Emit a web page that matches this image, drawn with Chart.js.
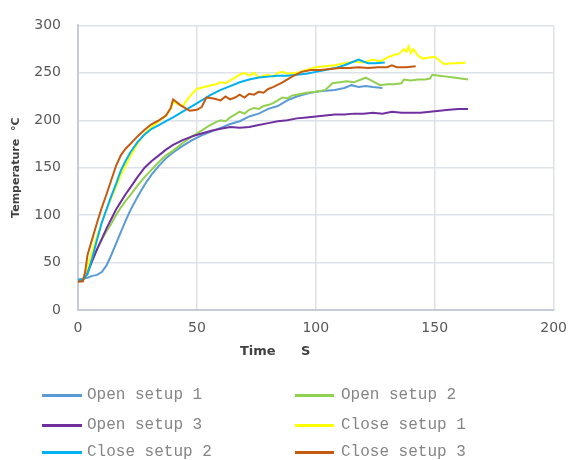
<!DOCTYPE html>
<html>
<head>
<meta charset="utf-8">
<script src="https://cdn.jsdelivr.net/npm/chart.js@4/dist/chart.umd.min.js"></script>
<style>
  html, body { margin: 0; padding: 0; background: #fff; }
  #wrap { position: relative; width: 577px; height: 460px; overflow: hidden; }
  canvas { position: absolute; left: 0; top: 0; }
  .lg { position: absolute; font-family: "Liberation Mono", "DejaVu Sans Mono", monospace; font-size: 16px; color: #858585; line-height: 20px; white-space: pre; }
  .sw { position: absolute; height: 3px; }
</style>
</head>
<body>
<div id="wrap">
  <canvas id="c" width="577" height="460"></canvas>
  <div id="legend"></div>
</div>
<script>
// ---- data ----
const seriesNames = ["Open setup 1", "Open setup 2", "Open setup 3", "Close setup 1", "Close setup 2", "Close setup 3"];
const seriesColors = ["#5b9bd5", "#92d050", "#7030a0", "#ffff00", "#00b0f0", "#c55a11"];

const open1Time = [0,2,4,6,8,10,12,14,16,18,20,22,25,28,31,34,37,40,44,48,52,56,60,64,68,72,76,80,84,88,92,96,100,104,108,112,115,118,121,124,128];
const open1Temp = [32,33,34,36,37,40,47,58,70,82,94,105,119,132,143,152,160,166,173,179,184,188,192,196,199,204,207,212,215,221,225,228,230,231,232,234,237,235,236,235,234];

const open2Time = [0,2,4,6,8,10,12,14,16,18,20,22,25,28,31,34,37,40,44,48,52,55,58,60,62,64,66,68,70,72,74,76,78,80,82,84,86,88,90,92,96,100,104,107,110,113,116,119,121,124,127,130,133,136,137,140,143,146,148,149,152,155,158,161,164];
const open2Temp = [30,31,38,52,64,74,83,91,100,108,115,121,131,140,148,156,163,168,176,183,189,194,198,200,199,203,206,209,207,211,213,212,215,216,218,221,224,223,226,227,229,230,232,239,240,241,240,243,245,241,237,238,238,239,243,242,243,243,244,248,247,246,245,244,243];

const open3Time = [0,2,4,6,8,10,12,14,16,18,20,22,25,28,31,34,37,40,44,48,52,56,60,64,68,72,76,80,84,88,92,96,100,104,108,112,116,120,124,128,132,136,140,144,148,152,156,160,164];
const open3Temp = [30,31,40,52,64,75,86,96,106,114,122,129,140,150,157,163,169,174,179,183,186,189,191,193,192,193,195,197,199,200,202,203,204,205,206,206,207,207,208,207,209,208,208,208,209,210,211,212,212];

const close1Time = [0,2,4,6,8,10,12,14,16,18,20,22,25,28,31,34,37,39,40,42,44,46,48,50,53,56,58,60,62,64,66,68,70,72,74,76,78,80,82,84,86,88,92,96,100,104,108,112,116,120,124,127,130,133,135,137,138,139,140,141,143,145,147,150,152,154,157,160,163];
const close1Temp = [30,31,45,62,78,92,106,118,130,142,152,162,175,186,193,199,205,212,220,217,215,222,228,233,235,237,238,240,239,242,245,248,250,247,250,245,247,248,246,250,251,249,250,253,256,257,258,260,262,261,264,262,266,269,270,275,272,278,271,275,268,265,266,267,263,259,260,260,261];

const close2Time = [0,2,4,6,8,10,12,14,16,18,20,22,25,28,31,34,37,40,44,48,52,56,60,64,68,72,76,80,84,88,92,96,100,104,108,112,116,118,120,122,125,129];
const close2Temp = [31,32,38,55,74,92,106,120,133,147,157,166,177,185,191,195,199,203,209,215,221,227,232,236,240,243,245,246,247,247,248,249,251,253,255,258,262,264,262,260,260,261];

const close3Time = [0,2,3,4,6,8,10,12,14,16,18,20,22,25,28,31,34,37,39,40,41,43,45,47,50,52,54,57,60,62,64,66,68,70,72,74,76,78,80,82,86,90,94,98,102,106,110,114,118,122,126,130,132,134,138,142];
const close3Temp = [30,30,40,58,75,92,108,122,137,152,163,170,175,183,190,196,200,205,213,222,220,216,213,210,211,214,224,223,221,225,222,224,227,224,228,227,230,229,233,235,240,246,251,253,253,254,255,255,256,255,256,256,258,256,256,257];

const xTicks = [0, 50, 100, 150, 200];
const yTicks = [0, 50, 100, 150, 200, 250, 300];
const xTitleWords = ["Time", "S"];
const yTitle = "Temperature  \u00B0C";

// ---- build ----
const times = [open1Time, open2Time, open3Time, close1Time, close2Time, close3Time];
const temps = [open1Temp, open2Temp, open3Temp, close1Temp, close2Temp, close3Temp];

const datasets = seriesNames.map((name, i) => ({
  label: name,
  data: times[i].map((t, k) => ({ x: t, y: temps[i][k] })),
  borderColor: seriesColors[i],
  backgroundColor: seriesColors[i],
  borderWidth: 2,
  pointRadius: 0,
  tension: 0,
  fill: false,
  order: -i
}));

const tickFont = { family: "'DejaVu Sans', sans-serif", size: 14 };

const xTitlePlugin = {
  id: 'xTitle',
  afterDraw(chart) {
    const ctx = chart.ctx;
    ctx.save();
    ctx.font = "bold 13px 'DejaVu Sans', sans-serif";
    ctx.fillStyle = "#404040";
    ctx.textBaseline = "middle";
    ctx.textAlign = "left";
    ctx.fillText(xTitleWords[0], 240, 352);
    ctx.fillText(xTitleWords[1], 301, 352);
    ctx.restore();
  }
};

new Chart(document.getElementById('c'), {
  type: 'line',
  data: { datasets },
  options: {
    responsive: false,
    animation: false,
    layout: { padding: { left: 0, top: 20, right: 16, bottom: 110 } },
    plugins: { legend: { display: false }, tooltip: { enabled: false } },
    scales: {
      x: {
        type: 'linear', min: 0, max: 200,
        afterBuildTicks: s => { s.ticks = xTicks.map(v => ({ value: v })); },
        afterFit: s => { s.height = 40; },
        ticks: { color: '#595959', font: tickFont, padding: 10, maxRotation: 0 },
        grid: { color: '#dde1e8', lineWidth: 1.5, drawTicks: false },
        border: { color: '#c5ccd8', width: 2 }
      },
      y: {
        type: 'linear', min: 0, max: 300,
        afterBuildTicks: s => { s.ticks = yTicks.map(v => ({ value: v })); },
        afterFit: s => { s.width = 78; },
        ticks: { color: '#595959', font: tickFont, padding: 17 },
        grid: { color: '#dde1e8', lineWidth: 1.5, drawTicks: false },
        border: { color: '#c5ccd8', width: 2 },
        title: { display: true, text: yTitle, color: '#404040',
                 font: { family: "'DejaVu Sans', sans-serif", size: 11, weight: 'bold' },
                 padding: { top: 10, bottom: 0 } }
      }
    }
  },
  plugins: [xTitlePlugin]
});

// ---- HTML legend (2 columns x 3 rows) ----
const legend = document.getElementById('legend');
const colX = [{ line: 42, w: 40, text: 87 }, { line: 295, w: 39, text: 341 }];
const rowY = [395, 425, 452];
seriesNames.forEach((name, i) => {
  const c = colX[i % 2], y = rowY[Math.floor(i / 2)];
  const sw = document.createElement('div');
  sw.className = 'sw';
  sw.style.left = c.line + 'px'; sw.style.width = c.w + 'px';
  sw.style.top = (y - 1.5) + 'px'; sw.style.background = seriesColors[i];
  legend.appendChild(sw);
  const tx = document.createElement('div');
  tx.className = 'lg';
  tx.style.left = c.text + 'px'; tx.style.top = (y - 10) + 'px';
  tx.textContent = name;
  legend.appendChild(tx);
});
</script>
</body>
</html>
